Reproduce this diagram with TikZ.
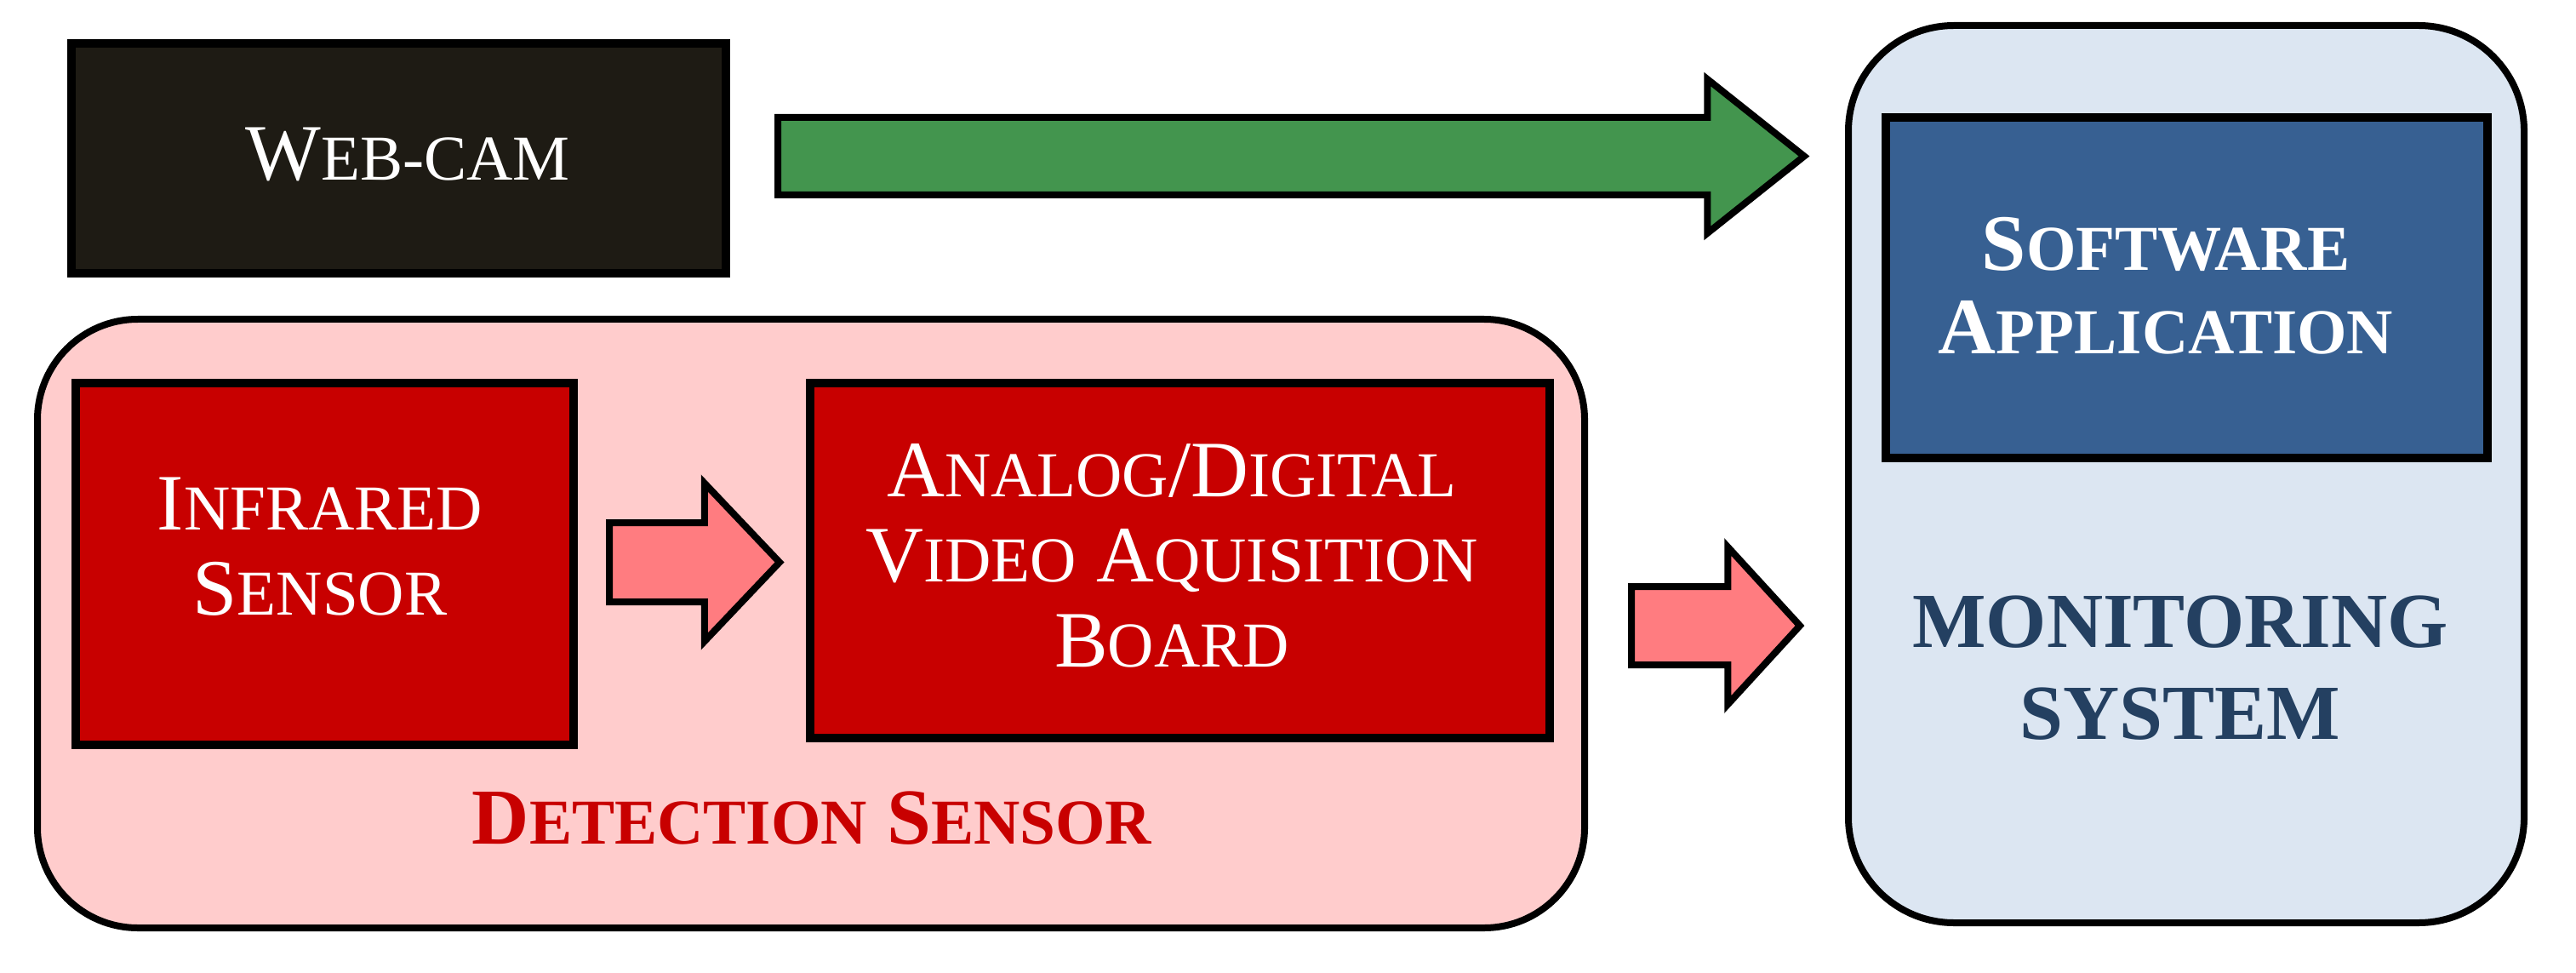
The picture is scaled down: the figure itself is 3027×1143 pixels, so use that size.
\documentclass[tikz,border=0pt]{standalone}
\usepackage{fontspec}
\setmainfont{Liberation Serif}
\usetikzlibrary{shapes.arrows}
\definecolor{camfill}{RGB}{30,27,20}
\definecolor{arrowgreen}{RGB}{67,149,78}
\definecolor{detbg}{RGB}{255,204,204}
\definecolor{boxred}{RGB}{200,0,0}
\definecolor{arrowpink}{RGB}{255,124,128}
\definecolor{monbg}{RGB}{220,230,242}
\definecolor{swblue}{RGB}{55,96,146}
\definecolor{montext}{RGB}{36,64,97}
\newcommand\sml[1]{{\fontsize{18.8pt}{25pt}\selectfont #1}}
\tikzset{
  box/.style={rectangle, draw=black, line width=2.5pt, inner sep=0pt},
  container/.style={rectangle, draw=black, line width=2pt, inner sep=0pt},
  blockarrow/.style={single arrow, draw=black, line width=2pt, inner xsep=0pt,
    anchor=tail, shape border rotate=0},
  lbl/.style={align=center, inner sep=0pt},
  regtext/.style={font=\fontsize{23.5pt}{25pt}\selectfont},
}
\begin{document}
\begin{tikzpicture}[x=0.25pt,y=-0.25pt]
\useasboundingbox (0,0) rectangle (3027,1143);
% containers
\node[container, fill=detbg, rounded corners=29.5pt, minimum width=454.5pt, minimum height=178.75pt] (det) at (953,732.5) {};
\node[container, fill=monbg, rounded corners=31pt, minimum width=198.5pt, minimum height=263.5pt] (mon) at (2569,557) {};
% boxes
\node[box, fill=camfill, minimum width=192.25pt, minimum height=67.5pt] (cam) at (468.5,186) {};
\node[box, fill=boxred, minimum width=146.25pt, minimum height=106.25pt] (ir) at (381.5,662.5) {};
\node[box, fill=boxred, minimum width=217.25pt, minimum height=104.25pt] (adc) at (1386.5,658.5) {};
\node[box, fill=swblue, minimum width=176.75pt, minimum height=100pt] (sw) at (2569.5,338) {};
% block arrows
\node[blockarrow, fill=arrowgreen, inner ysep=10.375pt, single arrow head extend=11.25pt,
  single arrow tip angle=77, minimum height=301.5pt] (garrow) at (910,183.5) {};
\node[blockarrow, fill=arrowpink, inner ysep=10.625pt, single arrow head extend=11.625pt,
  single arrow tip angle=93, minimum height=50pt] (parrow1) at (712,660.5) {};
\node[blockarrow, fill=arrowpink, inner ysep=10.5pt, single arrow head extend=11.625pt,
  single arrow tip angle=95, minimum height=49.5pt] (parrow2) at (1913,735) {};
% labels
\node[lbl, regtext, text=white] (camtext) at (479,181) {W\sml{EB-CAM}};
\node[lbl, regtext, text=white] (irtext) at (376,642) {I\sml{NFRARED}\\S\sml{ENSOR}};
\node[lbl, regtext, text=white] (adctext) at (1377,653) {A\sml{NALOG}/D\sml{IGITAL}\\V\sml{IDEO} A\sml{QUISITION}\\B\sml{OARD}};
\node[lbl, text=boxred, font=\bfseries\fontsize{23.3pt}{25pt}\selectfont] (dettext) at (954,961) {D\sml{ETECTION} S\sml{ENSOR}};
\node[lbl, text=white, font=\bfseries\fontsize{23.5pt}{24.5pt}\selectfont] (swtext) at (2545,336) {S\sml{OFTWARE}\\A\sml{PPLICATION}};
\node[lbl, text=montext, font=\bfseries\fontsize{22.9pt}{27pt}\selectfont] (montxt) at (2562,785) {MONITORING\\SYSTEM};
\end{tikzpicture}
\end{document}
